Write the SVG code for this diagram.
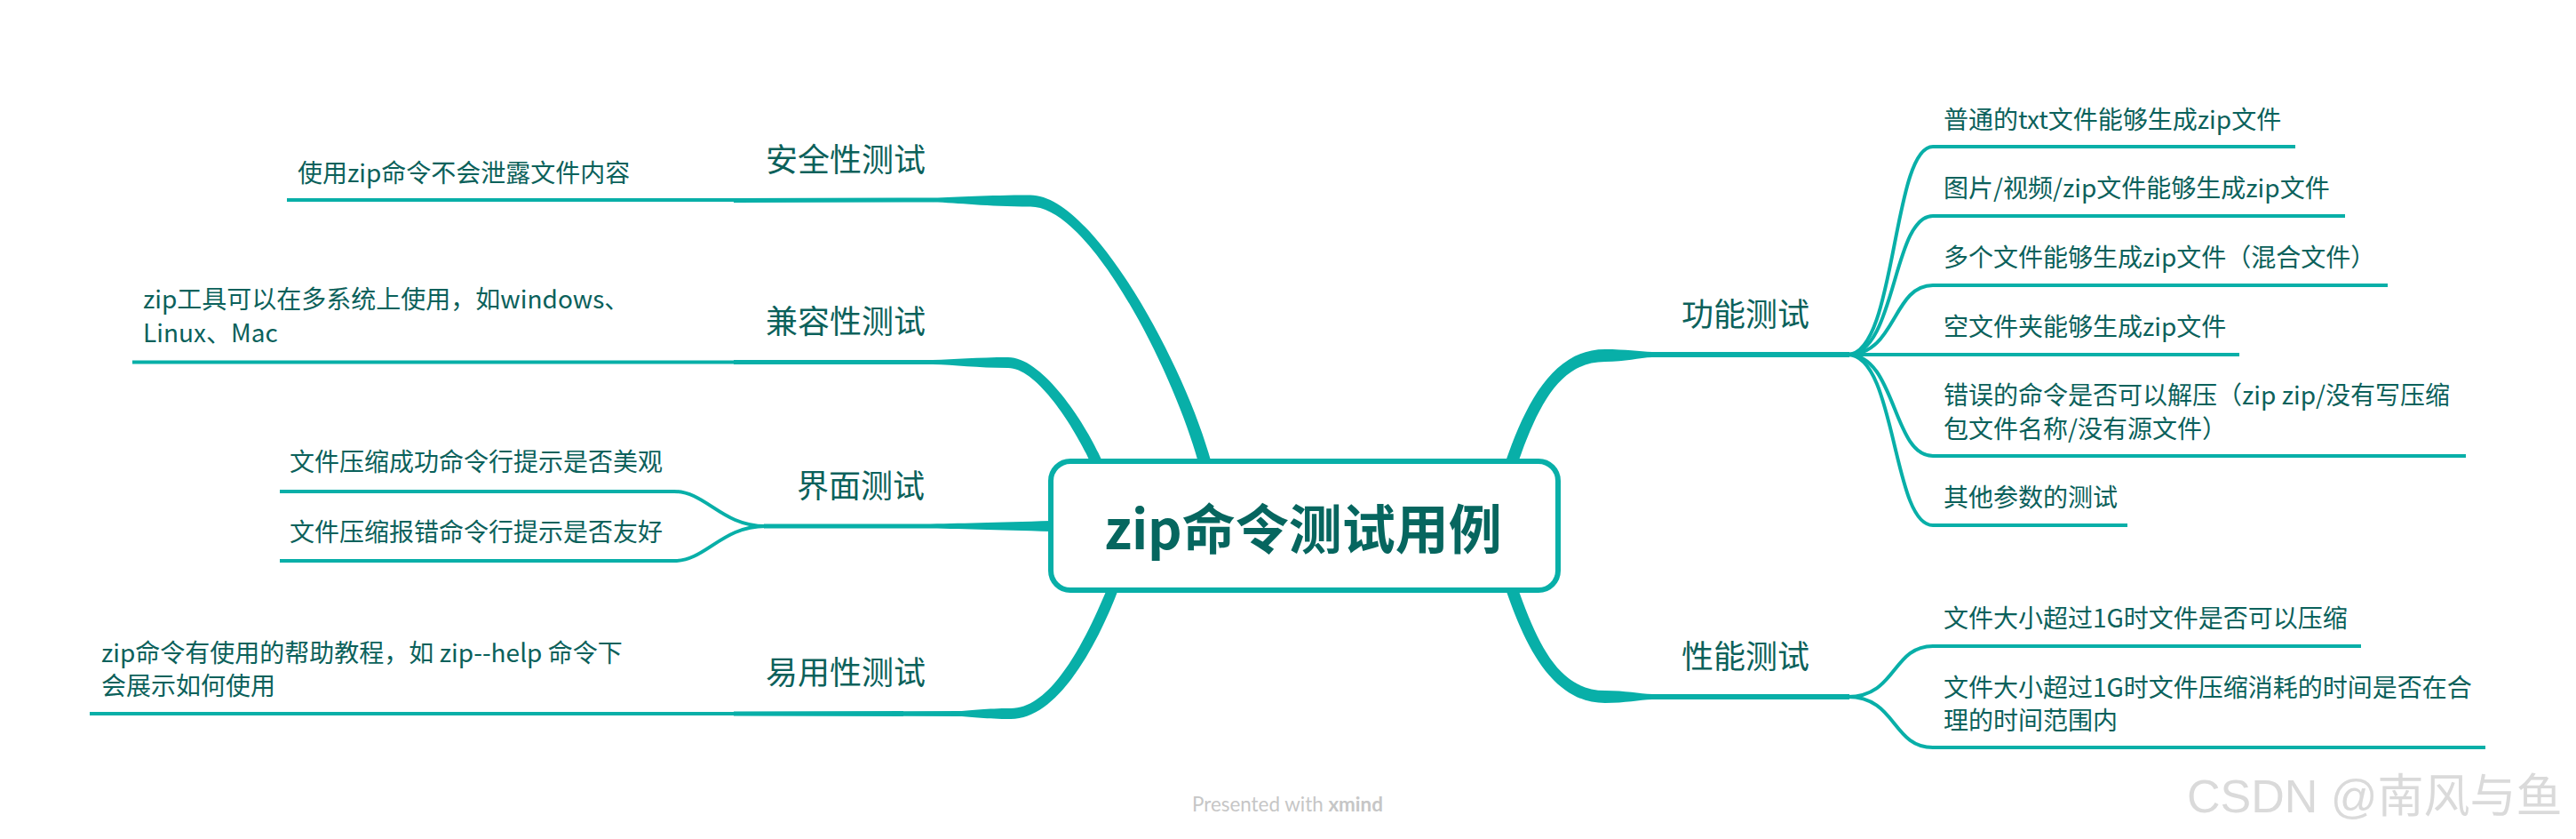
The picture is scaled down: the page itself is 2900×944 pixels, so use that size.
<svg xmlns="http://www.w3.org/2000/svg" width="2900" height="944" viewBox="0 0 2900 944">
<style>
.br{fill:#08AFA8;stroke:none}
.ln{fill:none;stroke:#08AFA8;stroke-width:4;stroke-linecap:butt}
.tl{fill:none;stroke:#08AFA8;stroke-width:6}
text{font-family:'Noto Sans CJK SC','Noto Sans',sans-serif;fill:#0B615B}
.t1{font-size:28px}
.t2{font-size:36px}
.c{font-size:60px;font-weight:bold;fill:#06665F}
</style>
<rect width="2900" height="944" fill="#ffffff"/>
<g id="connectors">
  <!-- 安全性测试 -->
  <path class="br" d="M1364,522 C1337,418 1232,219.5 1160,219.5 C1110,219.5 1080,222 1050,222.5 L826,223 L826,228 L1050,227.5 C1080,228 1110,232.5 1160,232.5 C1228,232.5 1323,422 1350,524 Z"/>
  <path class="ln" d="M323,225 L828,225"/>
  <!-- 兼容性测试 -->
  <path class="br" d="M1242,522 C1226,482 1175,402 1135,402 C1100,402 1075,404.5 1050,405 L826,405 L826,410 L1050,410 C1075,410.5 1100,414 1135,414 C1169,414 1214,488 1229,524 Z"/>
  <path class="ln" d="M149,407.5 L828,407.5"/>
  <!-- 界面测试 -->
  <path class="br" d="M1184,586 C1120,588 1080,589 1040,589.5 L860,589.5 L860,594.5 L1040,594.5 C1080,595 1120,596 1184,598 Z"/>
  <path class="ln" d="M862,592 C812,592 795,553 759,553 L315,553"/>
  <path class="ln" d="M862,592 C812,592 795,631 759,631 L315,631"/>
  <!-- 易用性测试 -->
  <path class="br" d="M1259.5,662 C1236.5,722.7 1192,809 1138,809 C1110,809 1095,806.5 1080,806 L826,805.5 L826,800.5 L1080,800 C1095,799.5 1110,797 1138,797 C1185,797 1223.5,717.3 1246.5,662 Z"/>
  <path class="ln" d="M101,803 L828,803"/>
  <!-- 功能测试 -->
  <path class="br" d="M1708.6,521.4 C1731.6,457.4 1755,407 1807,407 C1830,407 1845,402.5 1860,402 L1860,396 C1845,395.5 1830,393 1807,393 C1749,393 1718.4,452.6 1695.4,518 Z"/>
  <path class="tl" d="M1855,399 L2082,399"/>
  <path class="ln" d="M2080,399 C2135,399 2130,165 2176,165 L2584,165"/>
  <path class="ln" d="M2080,399 C2135,399 2130,243 2176,243 L2640,243"/>
  <path class="ln" d="M2080,399 C2135,399 2130,321 2176,321 L2688,321"/>
  <path class="ln" d="M2080,399 L2521,399"/>
  <path class="ln" d="M2080,399 C2135,399 2130,513 2176,513 L2776,513"/>
  <path class="ln" d="M2080,399 C2135,399 2130,591 2176,591 L2395,591"/>
  <!-- 性能测试 -->
  <path class="br" d="M1708.6,661.6 C1731.6,725.6 1755,777 1807,777 C1830,777 1845,780.5 1860,781 L1860,787 C1845,787.5 1830,791 1807,791 C1749,791 1718.4,730.4 1695.4,664 Z"/>
  <path class="tl" d="M1855,784 L2082,784"/>
  <path class="ln" d="M2080,784 C2135,784 2130,727 2176,727 L2658,727"/>
  <path class="ln" d="M2080,784 C2135,784 2130,841 2176,841 L2798,841"/>
</g>
<g id="center">
  <rect x="1183" y="519" width="571" height="145" rx="22" ry="22" fill="#ffffff" stroke="#08AFA8" stroke-width="6"/>
  <text class="c" x="1467" y="618" text-anchor="middle">zip命令测试用例</text>
</g>
<g id="topic-security">
  <text class="t2" x="862" y="193">安全性测试</text>
</g>
<g id="sub-security-1">
  <text class="t1" x="335" y="205">使用zip命令不会泄露文件内容</text>
</g>
<g id="topic-compat">
  <text class="t2" x="862" y="375">兼容性测试</text>
</g>
<g id="sub-compat-1">
  <text class="t1" x="161" y="347">zip工具可以在多系统上使用，如windows、</text>
  <text class="t1" x="161" y="385">Linux、Mac</text>
</g>
<g id="topic-ui">
  <text class="t2" x="897" y="560">界面测试</text>
</g>
<g id="sub-ui-1">
  <text class="t1" x="326" y="530">文件压缩成功命令行提示是否美观</text>
</g>
<g id="sub-ui-2">
  <text class="t1" x="326" y="609">文件压缩报错命令行提示是否友好</text>
</g>
<g id="topic-usability">
  <text class="t2" x="862" y="770">易用性测试</text>
</g>
<g id="sub-usability-1">
  <text class="t1" x="114" y="745">zip命令有使用的帮助教程，如 zip--help 命令下</text>
  <text class="t1" x="114" y="782">会展示如何使用</text>
</g>
<g id="topic-function">
  <text class="t2" x="1893" y="367">功能测试</text>
</g>
<g id="sub-function-1"><text class="t1" x="2188" y="145">普通的txt文件能够生成zip文件</text></g>
<g id="sub-function-2"><text class="t1" x="2188" y="222">图片/视频/zip文件能够生成zip文件</text></g>
<g id="sub-function-3"><text class="t1" x="2188" y="300">多个文件能够生成zip文件（混合文件）</text></g>
<g id="sub-function-4"><text class="t1" x="2188" y="378">空文件夹能够生成zip文件</text></g>
<g id="sub-function-5">
  <text class="t1" x="2188" y="455">错误的命令是否可以解压（zip zip/没有写压缩</text>
  <text class="t1" x="2188" y="493">包文件名称/没有源文件）</text>
</g>
<g id="sub-function-6"><text class="t1" x="2188" y="570">其他参数的测试</text></g>
<g id="topic-performance">
  <text class="t2" x="1893" y="752">性能测试</text>
</g>
<g id="sub-performance-1"><text class="t1" x="2188" y="706">文件大小超过1G时文件是否可以压缩</text></g>
<g id="sub-performance-2">
  <text class="t1" x="2188" y="784">文件大小超过1G时文件压缩消耗的时间是否在合</text>
  <text class="t1" x="2188" y="821">理的时间范围内</text>
</g>
<g id="footer">
  <text x="1342" y="913" style="font-family:Lato,'Open Sans',sans-serif;font-size:22.4px;fill:#c6c6c6">Presented with <tspan font-weight="bold">xmind</tspan></text>
  <text x="2462" y="914" style="font-family:'Liberation Sans','Noto Sans CJK SC',sans-serif;font-size:52px;fill:#dadada">CSDN @南风与鱼</text>
</g>
</svg>
